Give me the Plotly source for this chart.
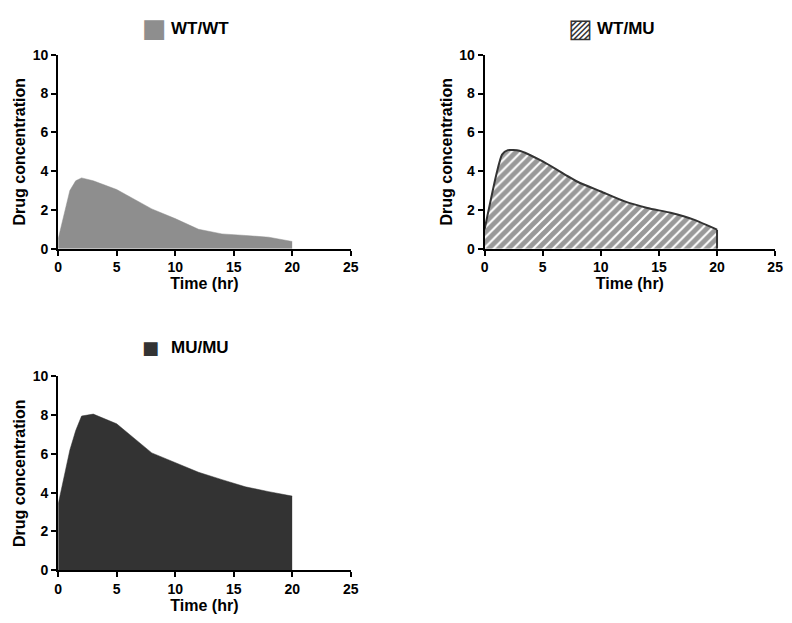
import plotly.graph_objects as go

# ---- data ----
time_hr = [0, 1, 1.5, 2, 3, 5, 8, 10, 12, 14, 16, 18, 20]
wt_wt = [0.5, 3.0, 3.5, 3.65, 3.5, 3.05, 2.05, 1.55, 1.0, 0.76, 0.68, 0.59, 0.37]
wt_mu = [1.0, 3.8, 4.85, 5.08, 5.05, 4.5, 3.45, 2.95, 2.45, 2.1, 1.85, 1.5, 0.98]
mu_mu = [3.4, 6.2, 7.2, 7.95, 8.05, 7.55, 6.05, 5.55, 5.05, 4.67, 4.3, 4.05, 3.82]
series_names = ["WT/WT", "WT/MU", "MU/MU"]
x_ticks = [0, 5, 10, 15, 20, 25]
y_ticks = [0, 2, 4, 6, 8, 10]

FONT = "Arial, Liberation Sans, sans-serif"
GRAY = "#8e8e8e"
DARK = "#333333"

W, H = 792, 623

def px_x(p):
    return p / W

def px_y(p):
    return 1 - p / H

fig = go.Figure()

# Area traces
fig.add_trace(go.Scatter(x=time_hr, y=wt_wt, mode="lines", fill="tozeroy",
                         fillcolor=GRAY, line=dict(color=GRAY, width=0.5),
                         name=series_names[0], showlegend=False,
                         xaxis="x", yaxis="y", hoverinfo="skip"))
fig.add_trace(go.Scatter(x=time_hr, y=wt_mu, mode="lines", fill="tozeroy",
                         fillcolor="white",
                         fillpattern=dict(shape="/", fgcolor=DARK, bgcolor="white",
                                          size=7, solidity=0.72),
                         line=dict(color=DARK, width=2, shape="spline", smoothing=0.6),
                         name=series_names[1], showlegend=False,
                         xaxis="x2", yaxis="y2", hoverinfo="skip"))
fig.add_trace(go.Scatter(x=time_hr, y=mu_mu, mode="lines", fill="tozeroy",
                         fillcolor=DARK, line=dict(color=DARK, width=0.5),
                         name=series_names[2], showlegend=False,
                         xaxis="x3", yaxis="y3", hoverinfo="skip"))

# right closing edge of hatched area
fig.add_shape(type="line", xref="x2", yref="y2", x0=time_hr[-1], x1=time_hr[-1],
              y0=0, y1=wt_mu[-1], line=dict(color=DARK, width=2))

def xaxis(domain, anchor):
    return dict(domain=domain, anchor=anchor, range=[0, 25], tickvals=x_ticks,
                showgrid=False, zeroline=False, showline=True, linecolor="black",
                linewidth=2, ticks="outside", ticklen=5, tickwidth=2, tickcolor="black",
                tickfont=dict(family=FONT, size=14, color="black", weight="bold"),
                title=dict(text="Time (hr)", standoff=2,
                           font=dict(family=FONT, size=16, color="black", weight="bold")),
                fixedrange=True)

def yaxis(domain, anchor):
    return dict(domain=domain, anchor=anchor, range=[0, 10], tickvals=y_ticks,
                showgrid=False, zeroline=False, showline=True, linecolor="black",
                linewidth=2, ticks="outside", ticklen=5, tickwidth=2, tickcolor="black",
                tickfont=dict(family=FONT, size=14, color="black", weight="bold"),
                title=dict(text="Drug concentration", standoff=3,
                           font=dict(family=FONT, size=16, color="black", weight="bold")),
                fixedrange=True)

top_dom = [px_y(247), px_y(48)]
bot_dom = [px_y(577), px_y(378)]
left_dom = [px_x(55), px_x(352)]
right_dom = [px_x(488), px_x(783)]

# legend-like headers: swatch glyph + bold label
headers = [
    (series_names[0], "\u25A0", GRAY, 26, 153, 168, 21),
    (series_names[1], "\u25A8", DARK, 26, 585, 600, 21),
    (series_names[2], "\u25A0", DARK, 18, 149, 168, 348),
]
for name, glyph, col, gsize, sx, tx, ty in headers:
    fig.add_annotation(xref="paper", yref="paper", x=px_x(sx), y=px_y(ty),
                       text=glyph, showarrow=False, xanchor="center", yanchor="middle",
                       font=dict(family="DejaVu Sans", size=gsize, color=col))
    fig.add_annotation(xref="paper", yref="paper", x=px_x(tx), y=px_y(ty),
                       text=name, showarrow=False, xanchor="left", yanchor="middle",
                       font=dict(family=FONT, size=17, color="black", weight="bold"))

fig.update_layout(
    width=W, height=H,
    margin=dict(l=0, r=0, t=0, b=0),
    paper_bgcolor="white", plot_bgcolor="white",
    xaxis=xaxis(left_dom, "y"), yaxis=yaxis(top_dom, "x"),
    xaxis2=xaxis(right_dom, "y2"), yaxis2=yaxis(top_dom, "x2"),
    xaxis3=xaxis(left_dom, "y3"), yaxis3=yaxis(bot_dom, "x3"),
    showlegend=False,
)

# remove the default page margin so the 792x623 figure fills the window exactly
fig.write_html("out.html", config={"displayModeBar": False},
               post_script="document.body.style.margin='0';document.body.style.overflow='hidden';")
